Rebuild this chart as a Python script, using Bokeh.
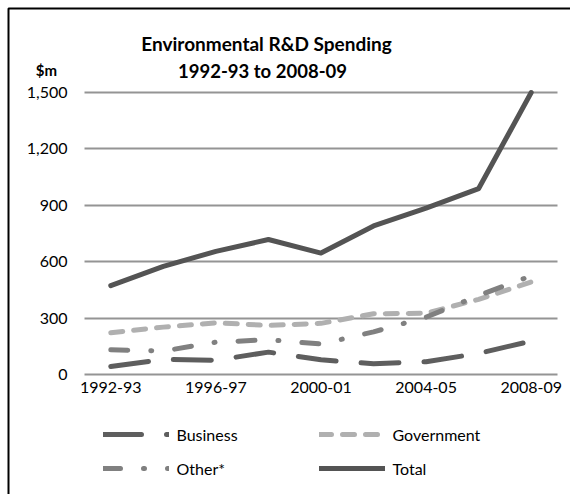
from bokeh.plotting import figure
from bokeh.models import (Range1d, FixedTicker, NumeralTickFormatter, Label,
                          Legend, LegendItem, BoxAnnotation, Grid)
from bokeh.embed import file_html
from bokeh.resources import INLINE

# Environmental R&D spending by sector, $m, biennial
years = ["1992-93", "1994-95", "1996-97", "1998-99", "2000-01",
         "2002-03", "2004-05", "2006-07", "2008-09"]
business = [43, 80, 76, 119, 78, 57, 68, 112, 178]
government = [222, 252, 275, 261, 272, 323, 326, 400, 492]
other = [131, 125, 172, 185, 162, 227, 305, 420, 525]
total = [473, 575, 655, 718, 646, 790, 885, 989, 1500]
y_ticks = [0, 300, 600, 900, 1200, 1500]
x_tick_idx = [0, 2, 4, 6, 8]

W, H = 570, 494
# plot area inside the canvas (pixels)
LEFT, RIGHT, TOP, BOTTOM = 84, 557, 92, 374
X0, X1 = -0.5, len(years) - 0.5
Y0, Y1 = 0, 1500
FONT = "Lato"

# the frame fills the canvas; ranges are widened so the plot area lands
# on LEFT..RIGHT / TOP..BOTTOM and the surrounding texts stay inside it
sx = (X1 - X0) / (RIGHT - LEFT)
sy = (Y1 - Y0) / (BOTTOM - TOP)


def fx(px):
    return X0 + (px - LEFT) * sx


def fy(py):
    return Y0 + (BOTTOM - py) * sy


p = figure(width=W, height=H, output_backend="svg", toolbar_location=None,
           x_range=Range1d(fx(0), fx(W)), y_range=Range1d(fy(H), fy(0)),
           min_border=0)
p.title.visible = False
p.outline_line_color = None
p.background_fill_color = "white"
p.border_fill_color = "white"

# axes pinned to the plot-area edges
p.yaxis.fixed_location = X0
p.xaxis.fixed_location = Y0
p.yaxis.ticker = FixedTicker(ticks=y_ticks)
p.yaxis.formatter = NumeralTickFormatter(format="0,0")
p.xaxis.ticker = FixedTicker(ticks=x_tick_idx)
p.xaxis.major_label_overrides = {i: years[i] for i in x_tick_idx}
for ax in (p.xaxis, p.yaxis):
    ax.axis_line_color = None
    ax.major_tick_line_color = None
    ax.minor_tick_line_color = None
    ax.major_tick_in = 0
    ax.major_tick_out = 0
    ax.major_label_text_font = FONT
    ax.major_label_text_font_size = "16px"
    ax.major_label_text_color = "#000000"
p.yaxis.major_label_standoff = 17
p.xaxis.major_label_standoff = 7

# horizontal gridlines limited to the plot area
p.xgrid.grid_line_color = None
GRID_COLOR, GRID_W = "#949494", 2
if "cross_bounds" in Grid.properties():
    p.ygrid.cross_bounds = (X0, X1)
    p.ygrid.grid_line_color = GRID_COLOR
    p.ygrid.grid_line_width = GRID_W
else:
    p.ygrid.grid_line_color = None
    p.segment(x0=X0, x1=X1, y0=y_ticks, y1=y_ticks,
              line_color=GRID_COLOR, line_width=GRID_W)

xs = list(range(len(years)))
common = dict(line_width=5, line_cap="round", line_join="round")
r_bus = p.line(xs, business, line_color="#5e5e5e", line_dash="38 25", **common)
r_gov = p.line(xs, government, line_color="#b0b0b0", line_dash="12 11", **common)
r_oth = p.line(xs, other, line_color="#808080", line_dash="17 23 1 23", **common)
r_tot = p.line(xs, total, line_color="#545454", **common)

# legend: two columns, two rows; first row centred at y=434
legend = Legend(items=[LegendItem(label="Business", renderers=[r_bus]),
                       LegendItem(label="Government", renderers=[r_gov]),
                       LegendItem(label="Other*", renderers=[r_oth]),
                       LegendItem(label="Total", renderers=[r_tot])],
                location=(102.5, H - 424 - 54), orientation="horizontal", ncols=2,
                glyph_width=66, glyph_height=20, label_height=20,
                label_width=128, label_standoff=8, spacing=14, padding=0,
                margin=0, border_line_color=None, background_fill_alpha=0,
                label_text_font=FONT, label_text_font_size="16px",
                label_text_color="#000000")
p.add_layout(legend, "center")

# title and unit label
for text, cx, cy, size in (("Environmental R&D Spending", 266, 43, "19px"),
                           ("1992-93 to 2008-09", 262, 70, "18.5px")):
    p.add_layout(Label(x=fx(cx), y=fy(cy), text=text, text_align="center",
                       text_baseline="middle", text_font=FONT,
                       text_font_style="bold", text_font_size=size,
                       text_color="#000000"))
p.add_layout(Label(x=fx(46), y=fy(69), text="$m", text_align="center",
                   text_baseline="middle", text_font=FONT,
                   text_font_style="bold", text_font_size="15px",
                   text_color="#000000"))

# chart border (top and left edges fall inside the canvas)
p.add_layout(BoxAnnotation(left=fx(8), right=fx(W + 60), top=fy(8), bottom=fy(H + 60),
                           fill_alpha=0, line_color="black", line_alpha=1,
                           line_width=2))

open("out.html", "w").write(file_html(p, INLINE))
